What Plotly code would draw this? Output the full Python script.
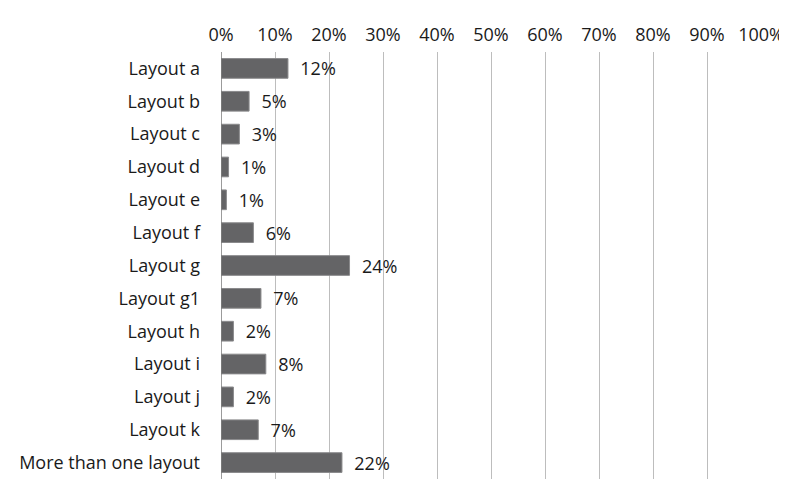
import plotly.graph_objects as go

categories = ["Layout a", "Layout b", "Layout c", "Layout d", "Layout e", "Layout f",
              "Layout g", "Layout g1", "Layout h", "Layout i", "Layout j", "Layout k",
              "More than one layout"]
values = [12.4, 5.2, 3.4, 1.4, 1.0, 6.0, 23.8, 7.4, 2.3, 8.3, 2.3, 6.9, 22.4]
labels = ["12%", "5%", "3%", "1%", "1%", "6%", "24%", "7%", "2%", "8%", "2%", "7%", "22%"]
tick_vals = list(range(0, 101, 10))
tick_text = [f"{v}%" for v in tick_vals]

FONT = "Open Sans, Liberation Sans, Arial, sans-serif"
FS = 18

fig = go.Figure(go.Bar(
    x=values, y=categories, orientation="h",
    marker=dict(color="#646466", line=dict(color="#8a8a8c", width=1)),
    text=["  " + t for t in labels], textposition="outside", cliponaxis=False,
    constraintext="none",
    textfont=dict(size=FS, color="#1a1a1a", family=FONT),
    width=0.6,
))

fig.update_layout(
    width=779, height=471,
    margin=dict(l=213, r=26, t=44, b=0, autoexpand=False),
    paper_bgcolor="white", plot_bgcolor="white",
    showlegend=False,
    font=dict(family=FONT, size=FS, color="#1a1a1a"),
    xaxis=dict(range=[0, 100], side="top", tickvals=tick_vals, ticktext=tick_text,
               showgrid=True, gridcolor="#bdbdbd", gridwidth=1, automargin=False,
               zeroline=False, showline=False, ticks="", ticklabelstandoff=6,
               tickfont=dict(size=FS)),
    yaxis=dict(categoryorder="array", categoryarray=categories[::-1], automargin=False,
               showgrid=False, zeroline=False, showline=False, ticks="",
               ticklabelstandoff=20, tickfont=dict(size=FS)),
    shapes=[dict(type="line", xref="x", yref="paper", x0=0, x1=0, y0=0, y1=1,
                 line=dict(color="#7a7a7a", width=1.5))],
)

fig.write_html("out.html")
